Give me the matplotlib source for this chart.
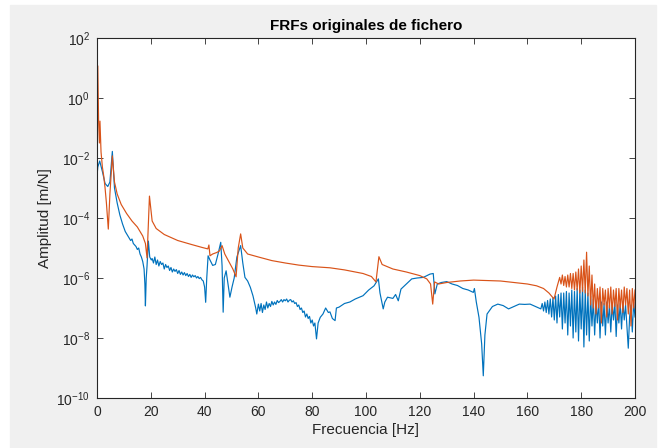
import matplotlib.pyplot as plt
import matplotlib.patches as mpatches
import numpy as np

plt.rcParams['font.family'] = ['Liberation Sans', 'DejaVu Sans']

# (frequency [Hz], log10 of amplitude [m/N])
blue_low = [(0.0, -2.6), (0.3, -2.3), (1.0, -2.1), (2.0, -2.45), (3.0, -2.85),
            (4.0, -2.95), (4.8, -2.8), (5.7, -1.78), (6.5, -3.0), (7.5, -3.5),
            (8.5, -3.9), (9.5, -4.2), (10.5, -4.45), (11.5, -4.6), (12.5, -4.75),
            (13.0, -4.7), (13.5, -4.85), (14.5, -4.95), (15.0, -5.05), (15.5, -5.0),
            (16.0, -5.2), (16.5, -5.3), (17.0, -5.45), (17.5, -5.7), (17.8, -6.2),
            (18.0, -6.93), (18.3, -6.0), (18.6, -5.6), (19.1, -4.77), (19.6, -5.3),
            (20.2, -5.4)]
blue_20_40 = [(20.5, -5.35), (21, -5.5), (21.5, -5.3), (22, -5.55), (22.5, -5.4),
              (23, -5.6), (23.5, -5.45), (24, -5.55), (24.5, -5.5), (25, -5.7),
              (25.5, -5.55), (26, -5.65), (26.5, -5.6), (27, -5.75), (27.5, -5.65),
              (28, -5.8), (28.5, -5.7), (29, -5.78), (29.5, -5.72), (30, -5.85),
              (30.5, -5.75), (31, -5.88), (31.5, -5.8), (32, -5.9), (32.5, -5.82),
              (33, -5.92), (33.5, -5.85), (34, -5.95), (34.5, -5.88), (35, -5.98),
              (35.5, -5.9), (36, -5.96), (36.5, -5.92), (37, -6.0), (37.5, -5.95),
              (38, -6.02), (38.5, -5.98), (39, -6.06), (39.5, -6.1)]
blue_40_60 = [(40.0, -6.3), (40.4, -6.81), (40.8, -6.0), (41.3, -5.26), (42, -5.4),
              (43, -5.58), (44, -5.55), (45, -5.2), (46.0, -4.81), (46.5, -5.6),
              (46.9, -7.14), (47.3, -6.0), (48, -5.76), (48.7, -6.2), (49.4, -6.64),
              (50.2, -6.3), (51, -6.0), (52, -5.3), (53.4, -4.92), (54.2, -5.5),
              (55, -5.98), (56, -6.1), (57, -6.31), (58, -6.6), (59, -7.0),
              (59.4, -7.2)]
blue_60_80 = [(60, -6.87), (60.5, -7.1), (61, -6.85), (61.5, -7.15), (62, -6.9),
              (62.5, -7.05), (63, -6.8), (63.5, -7.0), (64, -6.85), (64.5, -6.95),
              (65, -6.78), (65.5, -6.9), (66, -6.8), (66.5, -6.88), (67, -6.75),
              (67.5, -6.82), (68, -6.78), (68.5, -6.72), (69, -6.8), (69.5, -6.72),
              (70, -6.76), (70.5, -6.7), (71, -6.8), (71.5, -6.74), (72, -6.72),
              (72.5, -6.8), (73, -6.76), (73.5, -6.85), (74, -6.82), (74.5, -6.95),
              (75, -6.9), (75.5, -7.05), (76, -7.0), (76.5, -7.15), (77, -7.1),
              (77.5, -7.3), (78, -7.2), (78.5, -7.35), (79, -7.28), (79.5, -7.5),
              (80, -7.4), (80.5, -7.6), (81, -7.5)]
blue_80_165 = [(81.6, -8.03), (82.2, -7.5), (83, -7.31), (84, -7.2), (85, -7.0),
               (86, -7.15), (86.6, -7.13), (87.5, -7.35), (88.5, -7.42), (89, -7.0),
               (90, -6.97), (92, -6.85), (94, -6.8), (96, -6.7), (98.9, -6.59),
               (101, -6.4), (103, -6.26), (104.6, -6.03), (105.2, -6.5),
               (106.4, -7.03), (107, -6.8), (108, -6.64), (110, -6.68), (111, -6.55),
               (112, -6.76), (113, -6.37), (115, -6.2), (117, -6.03), (119, -6.0),
               (121.3, -5.98), (123.8, -5.87), (125.0, -5.85), (125.6, -6.53),
               (126.5, -6.2), (128, -6.15), (130, -6.12), (132, -6.2), (134, -6.25),
               (136, -6.35), (138, -6.4), (139.9, -6.48), (140.3, -6.35), (141, -6.8),
               (142, -7.31), (143, -8.2), (143.6, -9.26), (144.2, -7.9), (145, -7.2),
               (147, -6.95), (149, -6.87), (151, -6.92), (153, -7.03), (155, -6.95),
               (157, -6.87), (159, -6.88), (161, -6.87), (163, -6.95), (165, -7.03)]
blue_noise = [(165.5, -6.85), (166, -7.1), (166.5, -6.8), (167, -7.15), (167.5, -6.75),
              (168, -7.2), (168.5, -6.7), (169, -7.3), (169.5, -6.65), (170, -7.4),
              (170.5, -6.6), (171, -7.5), (171.5, -6.55), (172, -7.3), (172.5, -6.5),
              (173, -7.7), (173.5, -6.5), (174, -7.5), (174.5, -6.45), (175, -7.9),
              (175.5, -6.5), (176, -7.6), (176.5, -6.4), (177, -8.0), (177.5, -6.45),
              (178, -7.8), (178.5, -6.35), (179, -8.1), (179.5, -6.4), (180, -7.7),
              (180.5, -6.3), (181, -8.3), (181.5, -6.4), (182, -7.9), (182.5, -6.5),
              (183, -8.1), (183.5, -6.6), (184, -7.6), (184.5, -6.7), (185, -7.9),
              (185.5, -6.8), (186, -7.5), (186.5, -6.75), (187, -8.0), (187.5, -6.8),
              (188, -7.6), (188.5, -6.85), (189, -7.9), (189.5, -6.8), (190, -7.5),
              (190.5, -6.9), (191, -7.8), (191.5, -6.85), (192, -7.4), (192.5, -6.8),
              (193, -7.95), (193.5, -6.9), (194, -7.5), (194.5, -6.85), (195, -7.7),
              (195.5, -6.8), (196, -7.4), (196.5, -6.9), (197, -7.6), (197.5, -8.34),
              (198, -7.3), (198.5, -6.9), (199, -7.8), (199.5, -6.8), (200, -7.3)]

orange_smooth = [(0.0, -2.4), (0.3, 1.07), (0.6, -0.8), (0.9, -1.5), (1.1, -0.77),
                 (1.5, -1.8), (2.0, -2.3), (2.5, -2.6), (3.0, -3.0), (3.5, -3.5),
                 (4.2, -4.37), (4.8, -3.2), (5.7, -1.93), (6.5, -2.8), (7.5, -3.2),
                 (9.0, -3.55), (11.0, -3.85), (13.0, -4.1), (15.0, -4.3), (17.0, -4.6),
                 (18.0, -4.85), (18.6, -5.33), (19.5, -3.27), (20.5, -4.1), (22, -4.35),
                 (25, -4.55), (30, -4.75), (35, -4.88), (39, -4.98), (41.2, -5.03),
                 (41.6, -4.9), (42.0, -5.26), (43, -5.2), (44.5, -5.15), (45.5, -5.1),
                 (46.5, -4.92), (47.5, -5.2), (49, -5.45), (50.5, -5.7), (51.7, -5.96),
                 (52.5, -5.0), (53.4, -4.53), (54.2, -5.0), (56, -5.2), (60, -5.3),
                 (65, -5.42), (70, -5.5), (75, -5.57), (80, -5.62), (86.6, -5.66),
                 (92, -5.73), (98.9, -5.85), (102, -5.95), (103.7, -6.13),
                 (104.8, -5.29), (106, -5.55), (110, -5.7), (115, -5.8), (120, -5.92),
                 (122.6, -6.03), (124, -6.2), (124.8, -6.87), (125.5, -6.13),
                 (127, -6.2), (130, -6.15), (135, -6.1), (140, -6.07), (150, -6.1),
                 (155, -6.15), (160, -6.2), (163.4, -6.26), (166, -6.35), (168, -6.5),
                 (169.9, -6.7), (171, -6.3)]
orange_noise = [(172, -5.98), (172.5, -6.2), (173, -5.9), (173.5, -6.25), (174, -5.95),
                (174.5, -6.3), (175, -5.9), (175.5, -6.3), (176, -5.85), (176.5, -6.35),
                (177, -5.85), (177.5, -6.4), (178, -5.8), (178.5, -6.4), (179, -5.7),
                (179.5, -6.5), (180, -5.6), (180.5, -6.45), (181, -5.4), (181.5, -6.5),
                (182, -5.14), (182.5, -6.6), (183, -5.6), (183.5, -6.9), (184, -5.9),
                (184.5, -7.0), (185, -6.2), (185.5, -7.2), (186, -6.35), (186.5, -7.0),
                (187, -6.3), (187.5, -7.5), (188, -6.35), (188.5, -6.9), (189, -6.4),
                (189.5, -7.3), (190, -6.35), (190.5, -7.0), (191, -6.3), (191.5, -7.2),
                (192, -6.4), (192.5, -6.95), (193, -6.35), (193.5, -7.4), (194, -6.35),
                (194.5, -7.0), (195, -6.4), (195.5, -7.15), (196, -6.3), (196.5, -6.9),
                (197, -6.35), (197.5, -7.2), (198, -6.4), (198.5, -7.6), (199, -6.35),
                (199.5, -7.0), (200, -6.4)]

y_ticks = [1e-10, 1e-8, 1e-6, 1e-4, 1e-2, 1e0, 1e2]
x_ticks = [0, 20, 40, 60, 80, 100, 120, 140, 160, 180, 200]

blue = np.array(blue_low + blue_20_40 + blue_40_60 + blue_60_80 + blue_80_165 + blue_noise)
orange = np.array(orange_smooth + orange_noise)

fig = plt.figure(figsize=(6.71, 4.48), dpi=100)
fig.patch.set_facecolor('white')
fig.patches.append(mpatches.Rectangle((10 / 671, 0), 646 / 671, 443 / 448,
                                      transform=fig.transFigure, color='#f0f0f0',
                                      zorder=-10))
ax = fig.add_axes([97 / 671, 50 / 448, 538 / 671, 360 / 448])

ax.plot(blue[:, 0], 10 ** blue[:, 1], color='#0072BD', lw=0.85)
ax.plot(orange[:, 0], 10 ** orange[:, 1], color='#D95319', lw=0.85)

ax.set_yscale('log')
ax.set_xlim(0, 200)
ax.set_ylim(1e-10, 1e2)
ax.set_xticks(x_ticks)
ax.set_yticks(y_ticks)
ax.minorticks_off()
ax.tick_params(direction='in', top=True, right=True, length=4, width=0.6,
               colors='#262626', labelsize=10, pad=5)
for s in ax.spines.values():
    s.set_color('#262626')
    s.set_linewidth(0.8)

ax.set_title('FRFs originales de fichero', fontsize=11, fontweight='bold', pad=6)
ax.set_xlabel('Frecuencia [Hz]', fontsize=11, color='#262626', labelpad=3)
ax.set_ylabel('Amplitud [m/N]', fontsize=11, color='#262626', labelpad=3)

fig.savefig('out.png', dpi=100, facecolor=fig.get_facecolor())
